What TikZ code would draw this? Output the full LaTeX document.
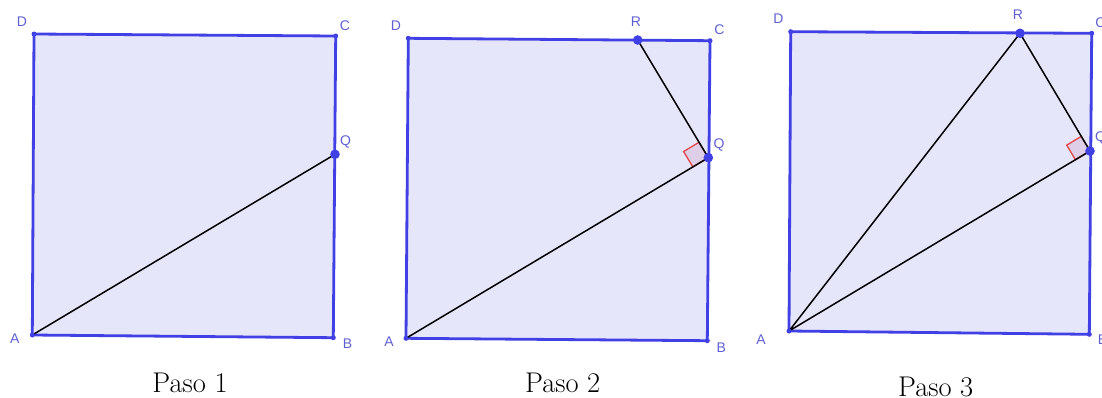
\documentclass[tikz,border=0pt]{standalone}
\usepackage{fontspec}
\newfontfamily\labfont{Liberation Sans}
\usetikzlibrary{calc}
\definecolor{sqblue}{RGB}{64,64,228}
\definecolor{lav}{RGB}{230,230,250}
\definecolor{lblue}{RGB}{96,96,212}
\definecolor{rared}{RGB}{228,72,72}
\definecolor{rafill}{RGB}{222,206,232}
\begin{document}
\begin{tikzpicture}[x=1pt,y=-1pt,
  sqbox/.style={draw=sqblue,line width=2.8pt,fill=lav,line join=round},
  seg/.style={black,line width=1.5pt},
  lbl/.style={text=lblue,font=\labfont\fontsize{14}{14}\selectfont,inner sep=0pt,text depth=0pt},
  capt/.style={font=\fontsize{28.5}{28.5}\selectfont,inner sep=0pt,text depth=0pt},
  ramark/.style={draw=rared,line width=1.3pt,fill=rafill,line join=miter},
  smalldot/.style={fill=sqblue},
  bigdot/.style={fill=sqblue}]
\useasboundingbox (0,0) rectangle (1102,397);
\clip (0,0) rectangle (1102,397);
\fill[white] (0,0) rectangle (1102,397);

% ---------- Panel 1 ----------
\coordinate (A1) at (32.3,335);
\coordinate (B1) at (333.3,337.7);
\coordinate (C1) at (335.7,36);
\coordinate (D1) at (34,34);
\coordinate (Q1) at (335,154.3);
\draw[sqbox] (A1) -- (B1) -- (C1) -- (D1) -- cycle;
\draw[seg] (A1) -- (Q1);
\foreach \p in {A1,B1,C1,D1} \fill[smalldot] (\p) circle (2.5pt);
\fill[bigdot] (Q1) circle (4.8pt);
\node[lbl] (lD1) at (22,22) {D};
\node[lbl] (lC1) at (345,26) {C};
\node[lbl] (lQ1) at (345.5,140.5) {Q};
\node[lbl] (lA1) at (14.7,339) {A};
\node[lbl] (lB1) at (347.5,343.5) {B};
\node[capt] (cap1) at (190,383) {Paso 1};

% ---------- Panel 2 ----------
\coordinate (A2) at (406,338.3);
\coordinate (B2) at (707.3,340.7);
\coordinate (C2) at (710,40.7);
\coordinate (D2) at (408.3,38.3);
\coordinate (Q2) at (708.3,157.7);
\coordinate (R2) at (637.7,40);
\draw[sqbox] (A2) -- (B2) -- (C2) -- (D2) -- cycle;
\coordinate (U2) at ($(Q2)!18pt!(A2)$);
\coordinate (V2) at ($(Q2)!18pt!(R2)$);
\draw[ramark] (Q2) -- (U2) -- ($(U2)+(V2)-(Q2)$) -- (V2) -- cycle;
\draw[seg] (A2) -- (Q2) -- (R2);
\foreach \p in {A2,B2,C2,D2} \fill[smalldot] (\p) circle (2.5pt);
\fill[bigdot] (Q2) circle (4.8pt);
\fill[bigdot] (R2) circle (4.8pt);
\node[lbl] (lD2) at (396,25.3) {D};
\node[lbl] (lR2) at (636,21.7) {R};
\node[lbl] (lC2) at (719.3,30) {C};
\node[lbl] (lQ2) at (719,143.5) {Q};
\node[lbl] (lA2) at (389,341.7) {A};
\node[lbl] (lB2) at (721.3,347.3) {B};
\node[capt] (cap2) at (562.7,383) {Paso 2};

% ---------- Panel 3 ----------
\coordinate (A3) at (789,331);
\coordinate (B3) at (1089.3,334.3);
\coordinate (C3) at (1091.7,33.3);
\coordinate (D3) at (790.7,31.7);
\coordinate (Q3) at (1090,151);
\coordinate (R3) at (1020,33.3);
\draw[sqbox] (A3) -- (B3) -- (C3) -- (D3) -- cycle;
\coordinate (U3) at ($(Q3)!17pt!(A3)$);
\coordinate (V3) at ($(Q3)!17pt!(R3)$);
\draw[ramark] (Q3) -- (U3) -- ($(U3)+(V3)-(Q3)$) -- (V3) -- cycle;
\draw[seg] (A3) -- (Q3) -- (R3) -- (A3);
\foreach \p in {A3,B3,C3,D3} \fill[smalldot] (\p) circle (2.5pt);
\fill[bigdot] (Q3) circle (4.8pt);
\fill[bigdot] (R3) circle (4.8pt);
\node[lbl] (lD3) at (778.3,18.3) {D};
\node[lbl] (lR3) at (1018,15) {R};
\node[lbl] (lC3) at (1100.5,23) {C};
\node[lbl] (lQ3) at (1100.5,136.3) {Q};
\node[lbl] (lA3) at (761,339.7) {A};
\node[lbl] (lB3) at (1102.5,340) {B};
\node[capt] (cap3) at (935.7,387) {Paso 3};
\end{tikzpicture}
\end{document}
